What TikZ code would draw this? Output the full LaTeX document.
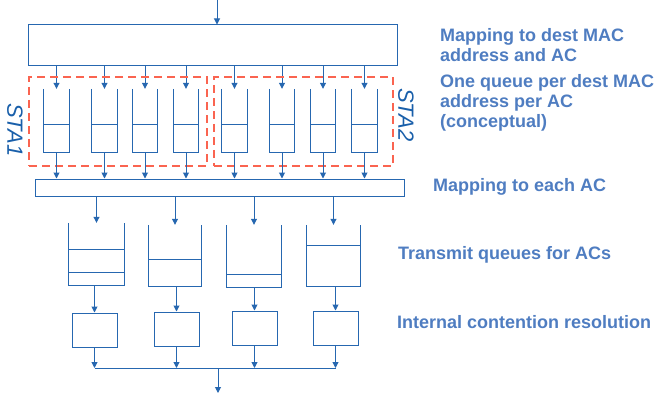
\documentclass[tikz,border=0pt]{standalone}
\usepackage{fontspec}
\setmainfont{Liberation Sans}
\usetikzlibrary{arrows.meta,calc}
\definecolor{wireblue}{RGB}{38,103,176}
\definecolor{noteblue}{RGB}{79,125,193}
\definecolor{stablue}{RGB}{25,95,170}
\definecolor{stared}{RGB}{250,100,80}
\tikzset{%
  wire/.style={draw=wireblue,line width=1pt},
  flow/.style={wire,-{Triangle[width=6pt,length=6pt]}},
  mapbox/.style={wire,inner sep=0pt},
  queue/.style={inner sep=0pt},
  staq/.style={queue,minimum width=25pt,minimum height=63pt},
  cell/.style={wire,inner sep=0pt,minimum width=45pt,minimum height=34pt},
  sta/.style={draw=stared,line width=2.4pt,dash pattern=on 8pt off 5pt,inner sep=0pt,minimum height=89pt},
  stalabel/.style={color=stablue,rotate=-90,inner sep=0pt,font=\fontsize{22}{22}\selectfont\itshape},
  note/.style={color=noteblue,anchor=west,align=left,inner sep=0pt,font=\fontsize{18}{20}\selectfont\bfseries}
}

\begin{document}
\begin{tikzpicture}[x=1pt,y=-1pt]
  \useasboundingbox (0,0) rectangle (657,396);

  % mapping to dest MAC address and AC
  \coordinate (in) at (217,0);
  \node[mapbox,minimum width=369pt,minimum height=41pt] (map) at (212.5,45.5) {};
  \draw[flow] (in) -- (in |- map.north);

  % per station queues
  \node[staq] (q1) at (56.5,120.5) {};
  \node[staq] (q2) at (104.5,120.5) {};
  \node[staq] (q3) at (145,120.5) {};
  \node[staq] (q4) at (186,120.5) {};
  \node[staq] (q5) at (234.5,120.5) {};
  \node[staq] (q6) at (282,120.5) {};
  \node[staq] (q7) at (323,120.5) {};
  \node[staq] (q8) at (364.5,120.5) {};

  \draw[wire] (q1.north west) |- (q1.south east) -- (q1.north east);
  \draw[wire] (q2.north west) |- (q2.south east) -- (q2.north east);
  \draw[wire] (q3.north west) |- (q3.south east) -- (q3.north east);
  \draw[wire] (q4.north west) |- (q4.south east) -- (q4.north east);
  \draw[wire] (q5.north west) |- (q5.south east) -- (q5.north east);
  \draw[wire] (q6.north west) |- (q6.south east) -- (q6.north east);
  \draw[wire] (q7.north west) |- (q7.south east) -- (q7.north east);
  \draw[wire] (q8.north west) |- (q8.south east) -- (q8.north east);

  \draw[wire] ($(q1.north west)!.56!(q1.south west)$) -- ($(q1.north east)!.56!(q1.south east)$);
  \draw[wire] ($(q2.north west)!.56!(q2.south west)$) -- ($(q2.north east)!.56!(q2.south east)$);
  \draw[wire] ($(q3.north west)!.56!(q3.south west)$) -- ($(q3.north east)!.56!(q3.south east)$);
  \draw[wire] ($(q4.north west)!.56!(q4.south west)$) -- ($(q4.north east)!.56!(q4.south east)$);
  \draw[wire] ($(q5.north west)!.56!(q5.south west)$) -- ($(q5.north east)!.56!(q5.south east)$);
  \draw[wire] ($(q6.north west)!.56!(q6.south west)$) -- ($(q6.north east)!.56!(q6.south east)$);
  \draw[wire] ($(q7.north west)!.56!(q7.south west)$) -- ($(q7.north east)!.56!(q7.south east)$);
  \draw[wire] ($(q8.north west)!.56!(q8.south west)$) -- ($(q8.north east)!.56!(q8.south east)$);

  \draw[flow] (map.south -| q1) -- (q1.north);
  \draw[flow] (map.south -| q2) -- (q2.north);
  \draw[flow] (map.south -| q3) -- (q3.north);
  \draw[flow] (map.south -| q4) -- (q4.north);
  \draw[flow] (map.south -| q5) -- (q5.north);
  \draw[flow] (map.south -| q6) -- (q6.north);
  \draw[flow] (map.south -| q7) -- (q7.north);
  \draw[flow] (map.south -| q8) -- (q8.north);

  \node[sta,minimum width=178pt] (sta1) at (118,121.5) {};
  \node[sta,minimum width=179pt] (sta2) at (303.5,121.5) {};
  \node[stalabel] (l1) at (15,130) {STA1};
  \node[stalabel] (l2) at (406,115) {STA2};

  % mapping to each AC
  \node[mapbox,minimum width=369pt,minimum height=17pt] (ac) at (219.5,187.5) {};
  \draw[flow] (q1.south) -- (q1.south |- ac.north);
  \draw[flow] (q2.south) -- (q2.south |- ac.north);
  \draw[flow] (q3.south) -- (q3.south |- ac.north);
  \draw[flow] (q4.south) -- (q4.south |- ac.north);
  \draw[flow] (q5.south) -- (q5.south |- ac.north);
  \draw[flow] (q6.south) -- (q6.south |- ac.north);
  \draw[flow] (q7.south) -- (q7.south |- ac.north);
  \draw[flow] (q8.south) -- (q8.south |- ac.north);

  % transmit queues
  \node[queue,minimum width=55pt,minimum height=62pt] (t1) at (96.5,254) {};
  \node[queue,minimum width=52pt,minimum height=61pt] (t2) at (175,255.5) {};
  \node[queue,minimum width=54pt,minimum height=62pt] (t3) at (254,256) {};
  \node[queue,minimum width=53pt,minimum height=61pt] (t4) at (333.5,255.5) {};

  \draw[wire] (t1.north west) |- (t1.south east) -- (t1.north east);
  \draw[wire] (t2.north west) |- (t2.south east) -- (t2.north east);
  \draw[wire] (t3.north west) |- (t3.south east) -- (t3.north east);
  \draw[wire] (t4.north west) |- (t4.south east) -- (t4.north east);

  \draw[wire] ($(t1.north west)!.42!(t1.south west)$) -- ($(t1.north east)!.42!(t1.south east)$);
  \draw[wire] ($(t1.north west)!.79!(t1.south west)$) -- ($(t1.north east)!.79!(t1.south east)$);
  \draw[wire] ($(t2.north west)!.57!(t2.south west)$) -- ($(t2.north east)!.57!(t2.south east)$);
  \draw[wire] ($(t3.north west)!.79!(t3.south west)$) -- ($(t3.north east)!.79!(t3.south east)$);
  \draw[wire] ($(t4.north west)!.34!(t4.south west)$) -- ($(t4.north east)!.34!(t4.south east)$);

  \draw[flow] (ac.south -| t1) -- (t1.north);
  \draw[flow] (ac.south -| t2) -- (t2.north);
  \draw[flow] (ac.south -| t3) -- (t3.north);
  \draw[flow] (ac.south -| t4) -- (t4.north);

  % internal contention resolution
  \node[cell] (r1) at (94.5,330) {};
  \node[cell] (r2) at (176.5,329) {};
  \node[cell] (r3) at (254.5,328) {};
  \node[cell] (r4) at (335.5,328) {};

  \draw[flow] (r1.north |- t1.south) -- (r1.north);
  \draw[flow] (r2.north |- t2.south) -- (r2.north);
  \draw[flow] (r3.north |- t3.south) -- (r3.north);
  \draw[flow] (r4.north |- t4.south) -- (r4.north);

  \coordinate (bus) at (218,368);
  \coordinate (out) at (218,393);
  \draw[wire] (r1.south |- bus) -- (r4.south |- bus);
  \draw[flow] (r1.south) -- (r1.south |- bus);
  \draw[flow] (r2.south) -- (r2.south |- bus);
  \draw[flow] (r3.south) -- (r3.south |- bus);
  \draw[flow] (r4.south) -- (r4.south |- bus);
  \draw[flow] (bus) -- (out);

  % notes
  \node[note] (n1) at (440,45) {Mapping to dest MAC\\address and AC};
  \node[note] (n2) at (440,103) {One queue per dest MAC\\address per AC\\(conceptual)};
  \node[note] (n3) at (433,187) {Mapping to each AC};
  \node[note] (n4) at (398,255) {Transmit queues for ACs};
  \node[note] (n5) at (397,322) {Internal contention resolution};
\end{tikzpicture}
\end{document}
